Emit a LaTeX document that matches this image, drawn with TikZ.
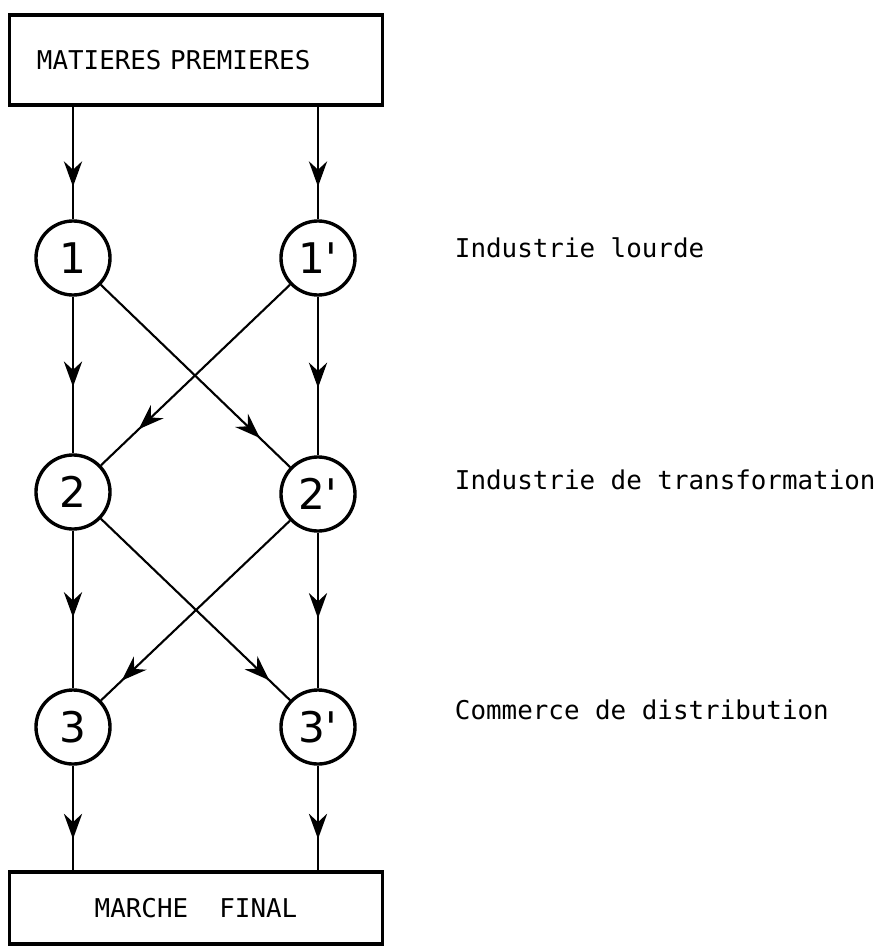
\documentclass[tikz,border=0pt]{standalone}
\usepackage{fontspec}
\setmainfont{DejaVu Sans}
\setmonofont{DejaVu Sans Mono}
\usetikzlibrary{arrows.meta,decorations.markings,positioning}
\tikzstyle{block} =
  [rectangle, draw, line width=2.2pt,
   minimum width=9.3cm, font=\ttfamily\fontsize{18.4}{22}\selectfont]
\tikzstyle{stage} =
  [circle, draw, line width=2.4pt, minimum size=1.85cm, inner sep=0pt,
   font=\fontsize{30}{30}\selectfont]
\tikzstyle{level} = [anchor=base west, font=\ttfamily\fontsize{18.4}{22}\selectfont]
\tikzset{flow/.style={draw, line width=1.5pt, postaction={decorate},
  decoration={markings, mark=at position #1 with
    {\arrow{Stealth[length=18pt,width=13pt,inset=6pt]}}}}}

\begin{document}
\begin{tikzpicture}[x=0.025cm, y=-0.025cm]
  \useasboundingbox (0,0) rectangle (878,947);
  \node [block, minimum height=2.25cm, text width=7.95cm, inner xsep=0.675cm,
    align=left] (raw) at (196,60) {MATIERES\ PREMIERES};
  \node [stage] (c1) at (73,258) {1};
  \node [stage] (c1p) at (318,258) {1\textquotesingle};
  \node [stage] (c2) at (73,492) {2};
  \node [stage] (c2p) at (318,494) {2\textquotesingle};
  \node [stage] (c3) at (73,727) {3};
  \node [stage] (c3p) at (318,727) {3\textquotesingle};
  \node [block, minimum height=1.8cm] (market) at (196,908) {MARCHE\ \ FINAL};

  \node [level] (heavy) at (450,257) {Industrie lourde};
  \node [level] (manuf) at (450,489) {Industrie de transformation};
  \node [level] (trade) at (450,719) {Commerce de distribution};

  \draw [flow=0.71] (raw.south -| c1) -- (c1);
  \draw [flow=0.575] (c1) -- (c2);
  \draw [flow=0.55] (c2) -- (c3);
  \draw [flow=0.70] (c3) -- (market.north -| c3);
  \draw [flow=0.71] (raw.south -| c1p) -- (c1p);
  \draw [flow=0.575] (c1p) -- (c2p);
  \draw [flow=0.55] (c2p) -- (c3p);
  \draw [flow=0.70] (c3p) -- (market.north -| c3p);

  \draw [flow=0.84] (c1) -- (c2p);
  \draw [flow=0.80] (c1p) -- (c2);
  \draw [flow=0.89] (c2) -- (c3p);
  \draw [flow=0.89] (c2p) -- (c3);
\end{tikzpicture}
\end{document}
